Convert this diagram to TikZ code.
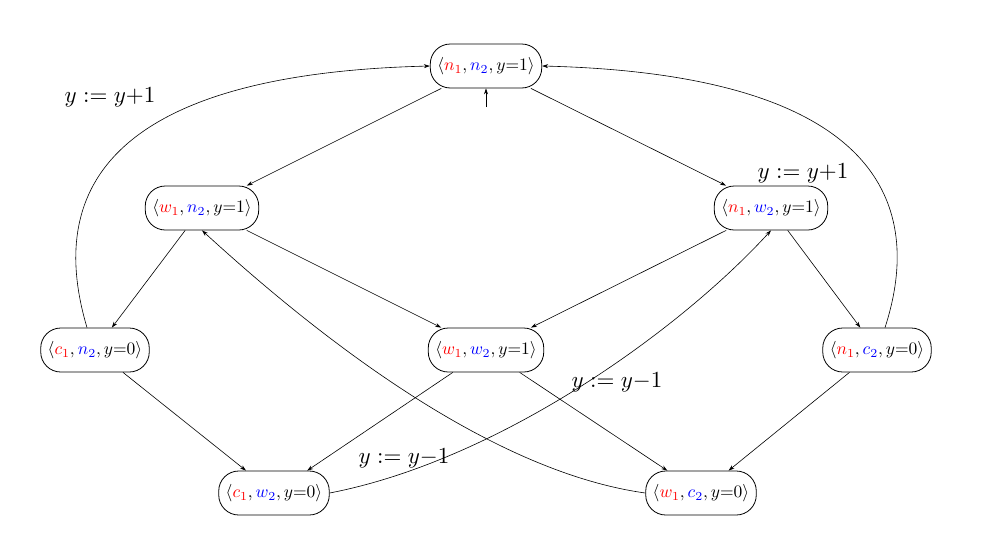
\documentclass[tikz,border=0pt]{standalone}
\usetikzlibrary{arrows.meta}
\begin{document}
\begin{tikzpicture}[x=1pt,y=-1pt,
 st/.style={draw,line width=0.8pt,rounded corners=20pt,minimum height=44pt,inner xsep=7pt},
 ed/.style={-{Stealth[length=6pt,width=4pt]},line width=0.6pt}]
\useasboundingbox (0,0) rectangle (1001,555);
\def\R#1{\textcolor{red}{#1}}\def\B#1{\textcolor{blue}{#1}}
\def\S#1{\scalebox{1.75}{$#1$}}
\def\L#1{\scalebox{2.3}{$#1$}}
\node[st] (t) at (486,66) {\S{\langle \R{n_1}, \B{n_2}, y{=}1\rangle}};
\node[st] (wn) at (202,208) {\S{\langle \R{w_1}, \B{n_2}, y{=}1\rangle}};
\node[st] (nw) at (771,208) {\S{\langle \R{n_1}, \B{w_2}, y{=}1\rangle}};
\node[st] (cn) at (95,350) {\S{\langle \R{c_1}, \B{n_2}, y{=}0\rangle}};
\node[st] (ww) at (486,350) {\S{\langle \R{w_1}, \B{w_2}, y{=}1\rangle}};
\node[st] (nc) at (877,350) {\S{\langle \R{n_1}, \B{c_2}, y{=}0\rangle}};
\node[st] (cw) at (274,493) {\S{\langle \R{c_1}, \B{w_2}, y{=}0\rangle}};
\node[st] (wc) at (701,493) {\S{\langle \R{w_1}, \B{c_2}, y{=}0\rangle}};
\coordinate (i) at (486,107);
\draw[ed] (i) -- (t);
\draw[ed] (t) -- (wn); \draw[ed] (t) -- (nw);
\draw[ed] (wn) -- (cn); \draw[ed] (wn) -- (ww);
\draw[ed] (nw) -- (ww); \draw[ed] (nw) -- (nc);
\draw[ed] (cn) -- (cw); \draw[ed] (ww) -- (cw);
\draw[ed] (ww) -- (wc); \draw[ed] (nc) -- (wc);
\coordinate (a1) at ([xshift=-8pt]cn.north);
\coordinate (a2) at ([xshift=8pt]nc.north);
\draw[ed] (a1) .. controls (55,220) and (70,75) .. (t.west);
\draw[ed] (a2) .. controls (920,220) and (900,75) .. (t.east);
\draw[ed] (cw.east) .. controls (500,460) and (680,330) .. (nw.south);
\draw[ed] (wc.west) .. controls (480,470) and (300,320) .. (wn.south);
\node (l1) at (110,97) {\L{y := y{+}1}};
\node (l2) at (803,173) {\L{y := y{+}1}};
\node (l3) at (617,382) {\L{y := y{-}1}};
\node (l4) at (404,458) {\L{y := y{-}1}};
\end{tikzpicture}
\end{document}
